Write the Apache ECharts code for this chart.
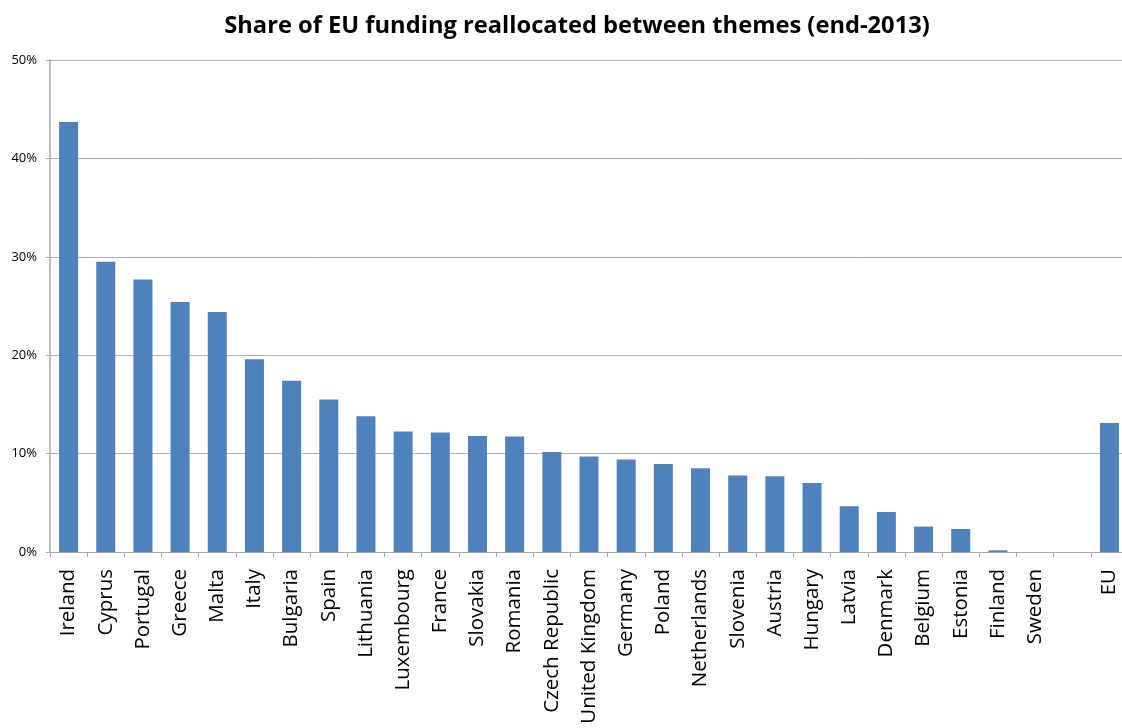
<!DOCTYPE html>
<html>
<head>
<meta charset="utf-8">
<title>Share of EU funding reallocated between themes (end-2013)</title>
<script src="https://cdn.jsdelivr.net/npm/echarts@6/dist/echarts.min.js"></script>
<style>
  html, body { margin: 0; padding: 0; background: #ffffff; overflow: hidden; }
  /* The drawing is a little wider than the window, so the plot runs past the right edge. */
  #chart { width: 1128px; height: 728px; }
</style>
</head>
<body>
<div id="chart"></div>
<script>
// Member states ordered by share reallocated; a blank slot separates the EU total.
const categories = [
  'Ireland', 'Cyprus', 'Portugal', 'Greece', 'Malta', 'Italy', 'Bulgaria',
  'Spain', 'Lithuania', 'Luxembourg', 'France', 'Slovakia', 'Romania',
  'Czech Republic', 'United Kingdom', 'Germany', 'Poland', 'Netherlands',
  'Slovenia', 'Austria', 'Hungary', 'Latvia', 'Denmark', 'Belgium',
  'Estonia', 'Finland', 'Sweden', '', 'EU'
];

// Share of EU funding reallocated between themes, in percent.
const shares = [
  43.7, 29.5, 27.7, 25.4, 24.4, 19.6, 17.4,
  15.5, 13.8, 12.25, 12.15, 11.8, 11.75,
  10.15, 9.7, 9.4, 8.95, 8.5,
  7.77, 7.7, 7.0, 4.65, 4.07, 2.58,
  2.34, 0.17, 0, null, 13.1
];

// Value axis ticks (percent).
const yMin = 0;
const yMax = 50;
const yStep = 10;

const chart = echarts.init(document.getElementById('chart'), null, { renderer: 'canvas' });

chart.setOption({
  backgroundColor: '#ffffff',
  animation: false,
  title: {
    text: 'Share of EU funding reallocated between themes (end-2013)',
    left: 572,
    textAlign: 'center',
    top: 9,
    textStyle: {
      fontFamily: 'Open Sans',
      fontWeight: 'bold',
      fontSize: 23.7,
      color: '#000000'
    }
  },
  grid: {
    left: 50,
    right: 0,
    top: 60,
    bottom: 176
  },
  xAxis: {
    type: 'category',
    data: categories,
    boundaryGap: true,
    axisLine: { show: true, lineStyle: { color: '#a6a6a6', width: 1 } },
    axisTick: { show: true, length: 5, interval: 0, lineStyle: { color: '#a6a6a6' } },
    axisLabel: {
      interval: 0,
      rotate: 90,
      margin: 17,
      fontFamily: 'Open Sans',
      fontSize: 20.5,
      color: '#000000'
    },
    splitLine: { show: false }
  },
  yAxis: {
    type: 'value',
    min: yMin,
    max: yMax,
    interval: yStep,
    axisLine: { show: true, lineStyle: { color: '#bfbfbf', width: 2 } },
    axisTick: { show: true, length: 4, lineStyle: { color: '#a6a6a6' } },
    axisLabel: {
      formatter: '{value}%',
      margin: 13,
      fontFamily: 'Open Sans',
      fontSize: 13,
      color: '#000000'
    },
    splitLine: { show: true, lineStyle: { color: '#b0b0b0', width: 1 } }
  },
  series: [{
    type: 'bar',
    data: shares,
    barWidth: 19,
    itemStyle: {
      color: '#4f81bd'
    }
  }]
});
</script>
</body>
</html>
